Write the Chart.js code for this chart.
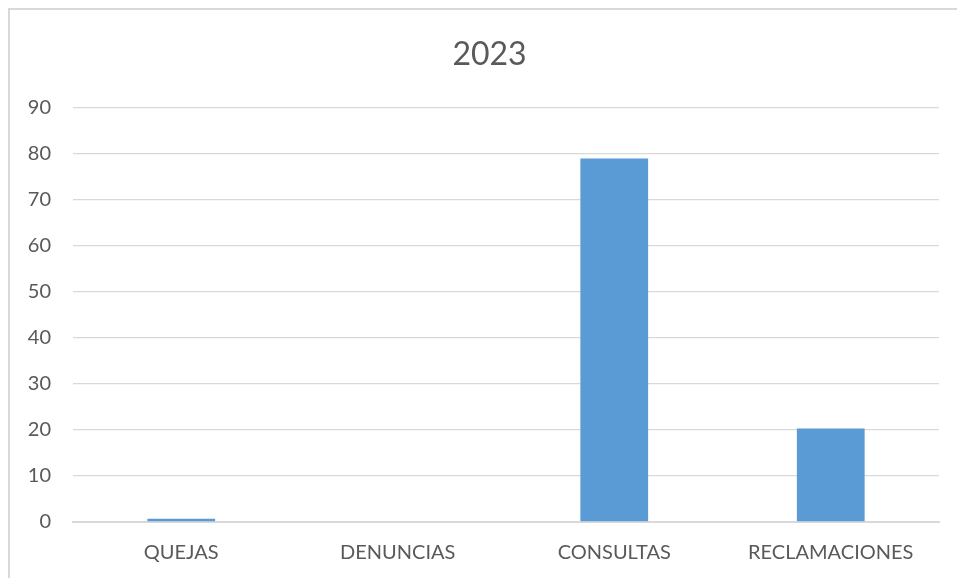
<!DOCTYPE html>
<html>
<head>
<meta charset="utf-8">
<script src="https://cdn.jsdelivr.net/npm/chart.js@4"></script>
<style>
  html, body { margin: 0; padding: 0; background: #fff; overflow: hidden; }
  #frame {
    position: absolute; left: 8px; top: 8px; width: 1200px; height: 1000px;
    border: 2px solid #d9d9d9; box-sizing: border-box;
  }
  #wrap { position: absolute; left: 0; top: 0; width: 957px; height: 578px; }
</style>
</head>
<body>
<div id="frame"></div>
<div id="wrap"><canvas id="chart"></canvas></div>
<script>
// Datos del gráfico
const categorias = ["QUEJAS", "DENUNCIAS", "CONSULTAS", "RECLAMACIONES"];
const valores = [0.7, 0, 78.9, 20.3];
const tituloTexto = "2023";
const yMax = 90;
const yPaso = 10;

document.addEventListener("DOMContentLoaded", () => {
  const ctx = document.getElementById("chart").getContext("2d");
  const gris = "#595959";
  const rejilla = "#d9d9d9";

  // desplaza un poco el título hacia la derecha, como en el original
  const centrarTitulo = {
    id: "centrarTitulo",
    afterLayout(chart) {
      if (chart.titleBlock) chart.titleBlock.left = 40;
    },
  };

  new Chart(ctx, {
    type: "bar",
    data: {
      labels: categorias,
      datasets: [
        {
          label: tituloTexto,
          data: valores,
          backgroundColor: "#5b9bd5",
          categoryPercentage: 1,
          barPercentage: 0.313,
        },
      ],
    },
    options: {
      responsive: true,
      maintainAspectRatio: false,
      animation: false,
      layout: { padding: { left: 22, right: 18, top: 0, bottom: 0 } },
      plugins: {
        legend: { display: false },
        tooltip: { enabled: false },
        title: {
          display: true,
          text: tituloTexto,
          color: gris,
          font: { family: "Lato", size: 32, weight: "normal" },
          padding: { top: 35, bottom: 34 },
        },
      },
      scales: {
        y: {
          min: 0,
          max: yMax,
          ticks: {
            stepSize: yPaso,
            color: gris,
            padding: 22,
            font: { family: "Lato", size: 20 },
          },
          grid: { color: rejilla, lineWidth: 1.3, drawTicks: false },
          border: { display: false },
          afterFit: (s) => { s.width = 51; },
        },
        x: {
          ticks: {
            color: gris,
            padding: 19,
            font: { family: "Lato", size: 20 },
          },
          grid: { display: false, drawTicks: false },
          border: { color: rejilla, width: 2 },
          afterFit: (s) => { s.height = 56; },
        },
      },
    },
    plugins: [centrarTitulo],
  });
});
</script>
</body>
</html>
